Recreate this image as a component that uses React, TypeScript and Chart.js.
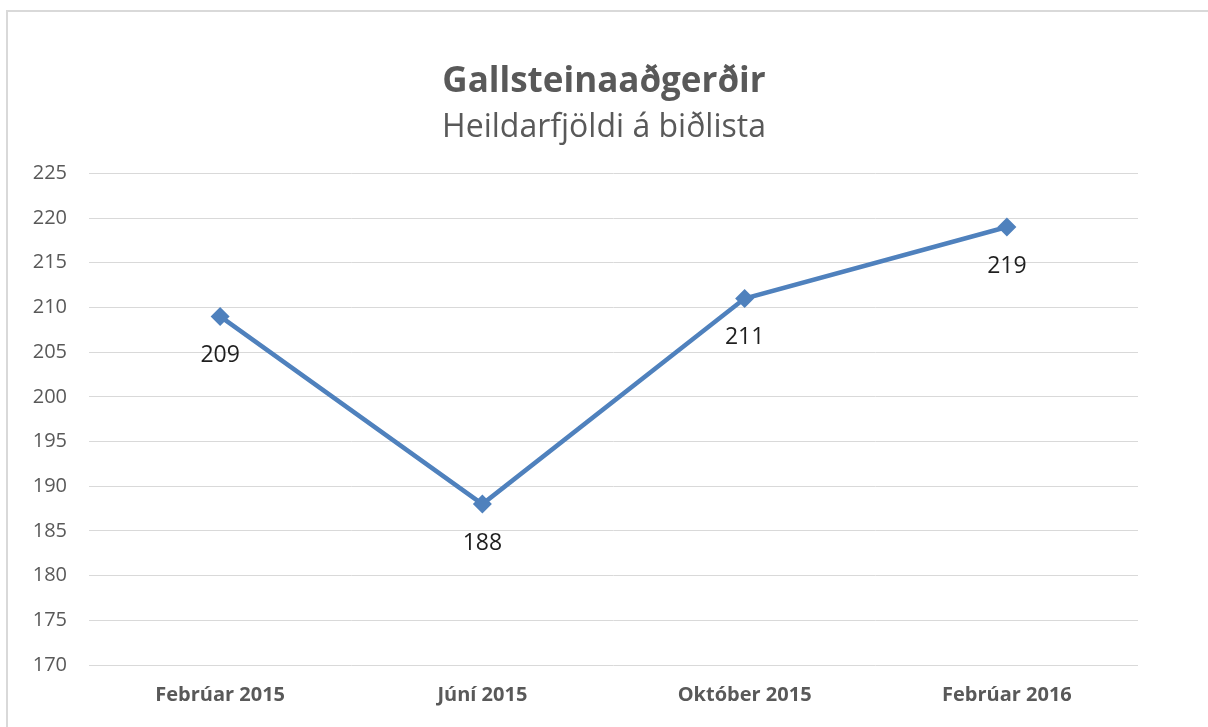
import React, { useEffect, useRef } from "react";
import { Chart, registerables } from "chart.js";

Chart.register(...registerables);

const categories = ["Febrúar 2015", "Júní 2015", "Október 2015", "Febrúar 2016"];
const waitingTotals = [209, 188, 211, 219];
const yMin = 170;
const yMax = 225;
const yStep = 5;
const titleText = "Gallsteinaaðgerðir";
const subtitleText = "Heildarfjöldi á biðlista";

const FONT = "'Open Sans', 'Noto Sans', sans-serif";

const dataLabelPlugin = {
  id: "dataLabelsBelow",
  afterDatasetsDraw(chart: any) {
    const ctx = chart.ctx;
    const meta = chart.getDatasetMeta(0);
    const ds = chart.data.datasets[0];
    ctx.save();
    ctx.font = `23px ${FONT}`;
    ctx.fillStyle = "#1f1f1f";
    ctx.textAlign = "center";
    ctx.textBaseline = "middle";
    meta.data.forEach((pt: any, i: number) => {
      ctx.fillText(String(ds.data[i]), pt.x, pt.y + 39);
    });
    ctx.restore();
  },
};

export default function App() {
  const ref = useRef<HTMLCanvasElement | null>(null);
  useEffect(() => {
    if (!ref.current) return;
    const chart = new Chart(ref.current, {
      type: "line",
      data: {
        labels: categories,
        datasets: [
          {
            label: subtitleText,
            data: waitingTotals,
            borderColor: "#4f81bd",
            backgroundColor: "#4f81bd",
            borderWidth: 4.5,
            pointStyle: "rectRot",
            pointRadius: 9.5,
            pointBorderWidth: 0,
            tension: 0,
            fill: false,
            yAxisID: "y",
          },
        ],
      },
      options: {
        responsive: false,
        animation: false,
        layout: { padding: { left: 0, right: 0, top: 0, bottom: 0 } },
        plugins: {
          legend: { display: false },
          tooltip: { enabled: false },
          title: {
            display: true,
            text: titleText,
            color: "#595959",
            font: { family: FONT, size: 35, weight: "bold" },
            padding: { top: 61, bottom: 4 },
          },
          subtitle: {
            display: true,
            text: subtitleText,
            color: "#595959",
            font: { family: FONT, size: 32, weight: "normal" },
            padding: { top: 2, bottom: 26 },
          },
        },
        scales: {
          x: {
            offset: true,
            grid: { display: false, drawTicks: false },
            border: { display: false },
            ticks: {
              color: "#595959",
              font: { family: FONT, size: 20, weight: "bold" },
              padding: 18,
              maxRotation: 0,
            },
            afterFit(scale: any) {
              scale.height = 62;
            },
          },
          y: {
            min: yMin,
            max: yMax,
            grid: { color: "#d9d9d9", lineWidth: 1, drawTicks: false },
            border: { display: false },
            ticks: {
              stepSize: yStep,
              color: "#595959",
              font: { family: FONT, size: 20 },
              padding: 22,
            },
            afterFit(scale: any) {
              scale.width = 89;
            },
          },
          yRight: {
            position: "right",
            min: yMin,
            max: yMax,
            grid: { display: false, drawTicks: false },
            border: { display: false },
            ticks: { display: false },
            afterFit(scale: any) {
              scale.width = 70;
            },
          },
        },
      },
      plugins: [dataLabelPlugin],
    });
    return () => chart.destroy();
  }, []);

  return (
    <div style={{ position: "fixed", left: 0, top: 0, width: 1208, height: 727, background: "#fff", overflow: "hidden" }}>
      <div
        style={{
          position: "absolute",
          left: 6,
          top: 10,
          width: 1300,
          height: 800,
          border: "2px solid #d9d9d9",
          boxSizing: "border-box",
        }}
      />
      <canvas ref={ref} width={1208} height={727} style={{ position: "absolute", left: 0, top: 0 }} />
    </div>
  );
}
